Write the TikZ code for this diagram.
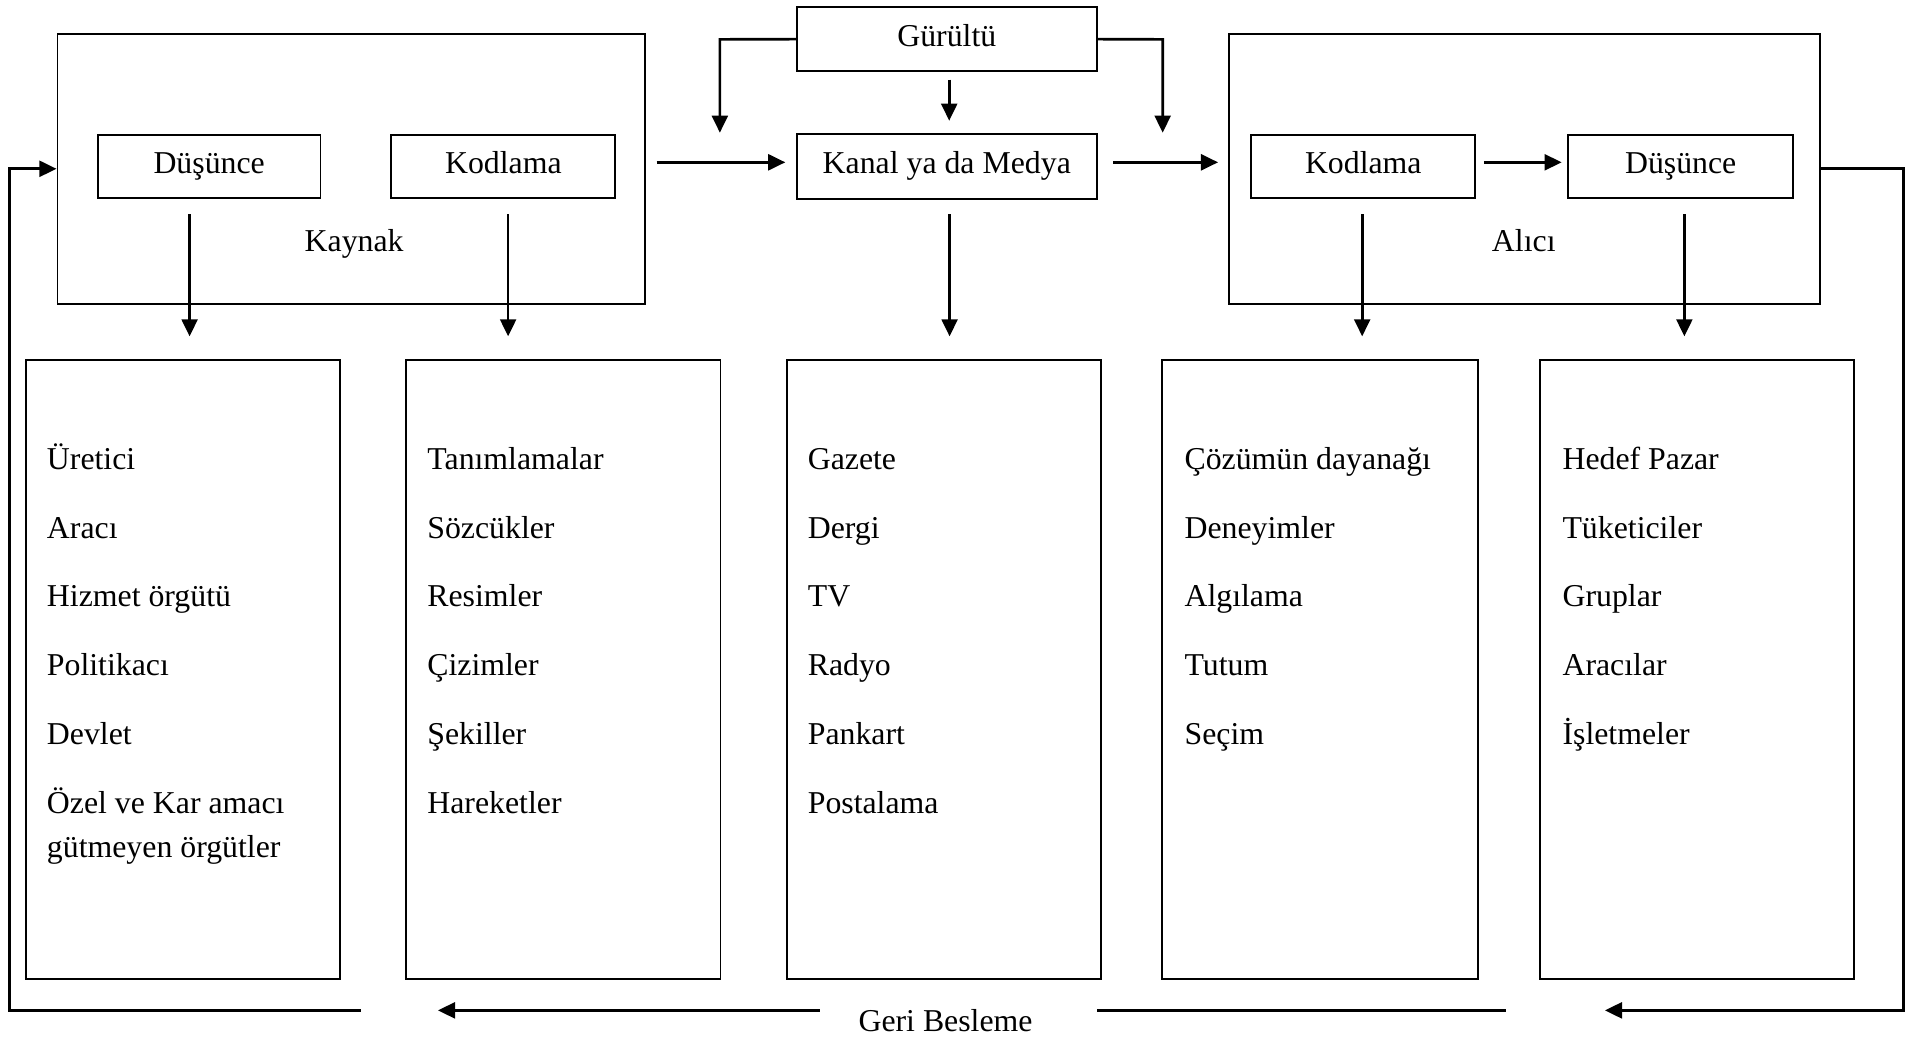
\documentclass[tikz,border=0pt]{standalone}
\usepackage{fontspec}
\setmainfont{Liberation Serif}
\usetikzlibrary{arrows.meta,calc}
\begin{document}
\begin{tikzpicture}[x=0.5pt,y=-0.5pt,
  box/.style={draw,line width=0.8pt,inner sep=0pt,rectangle,font=\fontsize{13}{16}\selectfont,text height=8.7pt,text depth=3pt},
  lbl/.style={font=\fontsize{13}{18}\selectfont,inner sep=0pt},
  item/.style={lbl,anchor=base west,align=left},
  arr/.style={line width=1.1pt,-{Triangle[length=7pt,width=6.5pt]}},
  ln/.style={line width=1.1pt}]
\useasboundingbox (0,0) rectangle (1568,849);

% top structure
\node[box,minimum width=240pt,minimum height=110.5pt] (kaynak) at (287,138) {};
\node[box,minimum width=91pt,minimum height=26pt] (dusL) at (171,136) {Düşünce};
\node[box,minimum width=91.5pt,minimum height=26pt] (kodL) at (411.5,136) {Kodlama};
\node[lbl,anchor=base] (kaynaklbl) at (289.5,206) {Kaynak};

\node[box,minimum width=122.5pt,minimum height=26pt] (gur) at (774,32) {Gürültü};
\node[box,minimum width=122.5pt,minimum height=26.5pt] (kanal) at (774,136) {Kanal ya da Medya};

\node[box,minimum width=241.5pt,minimum height=110.5pt] (alici) at (1246.5,138) {};
\node[box,minimum width=91.5pt,minimum height=26pt] (kodR) at (1114.5,136) {Kodlama};
\node[box,minimum width=92pt,minimum height=26pt] (dusR) at (1374,136) {Düşünce};
\node[lbl,anchor=base] (alicilbl) at (1245.7,206) {Alıcı};

% bottom boxes
\node[box,minimum width=128.5pt,minimum height=253pt] (b1) at (149.5,547) {};
\node[box,minimum width=128.5pt,minimum height=253pt] (b2) at (460.5,547) {};
\node[box,minimum width=128.5pt,minimum height=253pt] (b3) at (771.5,547) {};
\node[box,minimum width=129pt,minimum height=253pt] (b4) at (1079,547) {};
\node[box,minimum width=128.5pt,minimum height=253pt] (b5) at (1387.5,547) {};

% lists
\node[item] (l11) at (38,383.7) {Üretici};
\node[item] (l12) at (38,439.9) {Aracı};
\node[item] (l13) at (38,496.2) {Hizmet örgütü};
\node[item] (l14) at (38,552.4) {Politikacı};
\node[item] (l15) at (38,608.6) {Devlet};
\node[item] (l16) at (38,700.8) {Özel ve Kar amacı\\gütmeyen örgütler};

\node[item] (l21) at (349,383.7) {Tanımlamalar};
\node[item] (l22) at (349,439.9) {Sözcükler};
\node[item] (l23) at (349,496.2) {Resimler};
\node[item] (l24) at (349,552.4) {Çizimler};
\node[item] (l25) at (349,608.6) {Şekiller};
\node[item] (l26) at (349,664.8) {Hareketler};

\node[item] (l31) at (660,383.7) {Gazete};
\node[item] (l32) at (660,439.9) {Dergi};
\node[item] (l33) at (660,496.2) {TV};
\node[item] (l34) at (660,552.4) {Radyo};
\node[item] (l35) at (660,608.6) {Pankart};
\node[item] (l36) at (660,664.8) {Postalama};

\node[item] (l41) at (968,383.7) {Çözümün dayanağı};
\node[item] (l42) at (968,439.9) {Deneyimler};
\node[item] (l43) at (968,496.2) {Algılama};
\node[item] (l44) at (968,552.4) {Tutum};
\node[item] (l45) at (968,608.6) {Seçim};

\node[item] (l51) at (1277,383.7) {Hedef Pazar};
\node[item] (l52) at (1277,439.9) {Tüketiciler};
\node[item] (l53) at (1277,496.2) {Gruplar};
\node[item] (l54) at (1277,552.4) {Aracılar};
\node[item] (l55) at (1277,608.6) {İşletmeler};

\node[lbl] (geri) at (773,834) {Geri Besleme};

% coordinates for free ends
\coordinate (gL) at (588.5,32.2);
\coordinate (gLt) at (588.5,108.5);
\coordinate (gR) at (950.5,32.2);
\coordinate (gRt) at (950.5,108.5);
\coordinate (gMs) at (776,65);
\coordinate (gMt) at (776,98.7);
\coordinate (kks) at (536.7,132.7);
\coordinate (kkt) at (642,132.7);
\coordinate (kas) at (910,132.7);
\coordinate (kat) at (995.8,132.7);
\coordinate (kds) at (1213,132.7);
\coordinate (kdt) at (1276.7,132.7);

\coordinate (v1s) at (155,175);   \coordinate (v1t) at (155,275);
\coordinate (v2s) at (415.4,175); \coordinate (v2t) at (415.4,275);
\coordinate (v3s) at (776.3,175); \coordinate (v3t) at (776.3,275);
\coordinate (v4s) at (1113.6,175);\coordinate (v4t) at (1113.6,275);
\coordinate (v5s) at (1377,175);  \coordinate (v5t) at (1377,275);

\coordinate (fr1) at (1556,138);
\coordinate (fr2) at (1556,826);
\coordinate (fa)  at (1312,826);
\coordinate (g1)  at (1231,826);
\coordinate (g2)  at (897,826);
\coordinate (g3)  at (670,826);
\coordinate (g4)  at (358,826);
\coordinate (g5)  at (295,826);
\coordinate (fl1) at (8,826);
\coordinate (fl2) at (8,138);

% noise arrows
\draw[arr] (gur.west) -- (gL) -- (gLt);
\draw[arr] (gur.east) -- (gR) -- (gRt);
\draw[arr] (gMs) -- (gMt);

% flow arrows
\draw[arr] (kks) -- (kkt);
\draw[arr] (kas) -- (kat);
\draw[arr] (kds) -- (kdt);

% down arrows
\draw[arr] (v1s) -- (v1t);
\draw[arr] (v2s) -- (v2t);
\draw[arr] (v3s) -- (v3t);
\draw[arr] (v4s) -- (v4t);
\draw[arr] (v5s) -- (v5t);

% feedback
\draw[arr] (alici.east) -- (fr1) -- (fr2) -- (fa);
\draw[ln] (g1) -- (g2);
\draw[arr] (g3) -- (g4);
\draw[arr] (g5) -- (fl1) -- (fl2) -- (kaynak.west);
\end{tikzpicture}
\end{document}
